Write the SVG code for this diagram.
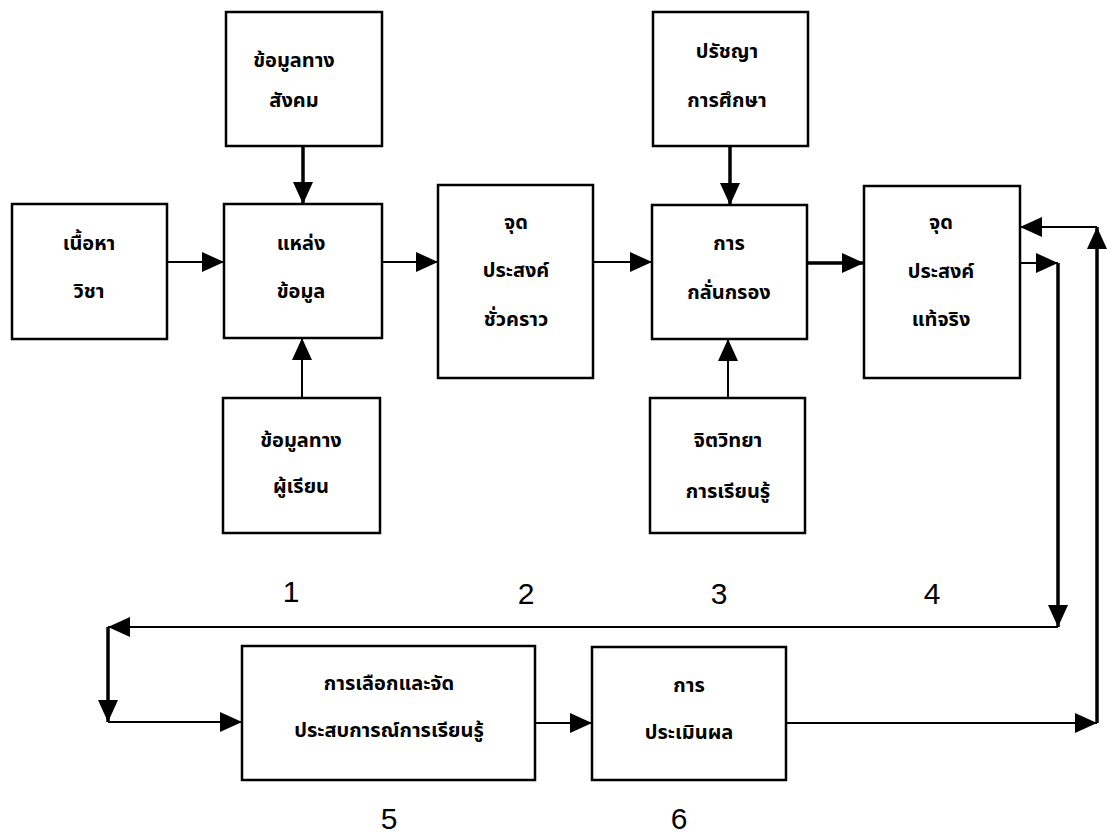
<svg xmlns="http://www.w3.org/2000/svg" width="1107" height="834" viewBox="0 0 1107 834">
<style>
.box{fill:#fff;stroke:#000;stroke-width:2.5}
.t{font-family:"Noto Sans Thai","Tahoma","DejaVu Sans","Noto Sans",sans-serif;font-weight:bold;font-size:20px;text-anchor:middle;fill:#000}
.n{font-family:"Liberation Sans",Arial,sans-serif;font-size:30px;text-anchor:middle;fill:#000}
.c{stroke:#000;stroke-width:2;fill:none;marker-end:url(#ah)}
.ck{stroke-width:3.5}
</style>
<defs>
<marker id="ah" markerUnits="userSpaceOnUse" markerWidth="22" markerHeight="20" refX="22" refY="10" orient="auto">
<path d="M0,0 L22,10 L0,20 z" fill="#000"/>
</marker>
</defs>
<rect width="1107" height="834" fill="#fff"/>
<g id="connectors">
<line class="c" x1="167" y1="262" x2="224" y2="262"/>
<line class="c ck" x1="303" y1="146" x2="303" y2="204"/>
<line class="c" x1="302" y1="398" x2="302" y2="338"/>
<line class="c" x1="382" y1="262" x2="438" y2="262"/>
<line class="c" x1="593" y1="262" x2="652" y2="262"/>
<line class="c ck" x1="730" y1="146" x2="730" y2="205"/>
<line class="c" x1="728" y1="398" x2="728" y2="339"/>
<line class="c ck" x1="807" y1="263" x2="864" y2="263"/>
<line class="c" x1="1020" y1="263" x2="1058" y2="263"/>
<line class="c ck" x1="1058" y1="263" x2="1058" y2="627"/>
<line class="c" x1="1058" y1="627" x2="108" y2="627"/>
<line class="c ck" x1="108" y1="627" x2="108" y2="722"/>
<line class="c" x1="108" y1="722" x2="242" y2="722"/>
<line class="c" x1="535" y1="723" x2="592" y2="723"/>
<line class="c" x1="786" y1="723" x2="1097" y2="723"/>
<line class="c ck" x1="1097" y1="723" x2="1097" y2="227"/>
<line class="c" x1="1097" y1="227" x2="1020" y2="227"/>
</g>
<g id="n-subject">
<rect class="box" x="12" y="204" width="155" height="135"/>
<text class="t" x="89" y="250">เนื้อหา</text>
<text class="t" x="89" y="298">วิชา</text>
</g>
<g id="n-social">
<rect class="box" x="226" y="12" width="156" height="134"/>
<text class="t" x="294" y="67">ข้อมูลทาง</text>
<text class="t" x="294" y="107">สังคม</text>
</g>
<g id="n-source">
<rect class="box" x="224" y="204" width="158" height="134"/>
<text class="t" x="301" y="250">แหล่ง</text>
<text class="t" x="301" y="298">ข้อมูล</text>
</g>
<g id="n-learner">
<rect class="box" x="223" y="398" width="157" height="135"/>
<text class="t" x="301" y="447">ข้อมูลทาง</text>
<text class="t" x="301" y="493">ผู้เรียน</text>
</g>
<g id="n-tentative">
<rect class="box" x="438" y="185" width="155" height="193"/>
<text class="t" x="516" y="229">จุด</text>
<text class="t" x="516" y="277">ประสงค์</text>
<text class="t" x="516" y="326">ชั่วคราว</text>
</g>
<g id="n-philosophy">
<rect class="box" x="653" y="12" width="155" height="134"/>
<text class="t" x="727" y="58">ปรัชญา</text>
<text class="t" x="727" y="107">การศึกษา</text>
</g>
<g id="n-screen">
<rect class="box" x="652" y="205" width="155" height="134"/>
<text class="t" x="729" y="250">การ</text>
<text class="t" x="729" y="299">กลั่นกรอง</text>
</g>
<g id="n-psych">
<rect class="box" x="650" y="398" width="155" height="135"/>
<text class="t" x="728" y="447">จิตวิทยา</text>
<text class="t" x="728" y="498">การเรียนรู้</text>
</g>
<g id="n-real">
<rect class="box" x="864" y="186" width="156" height="192"/>
<text class="t" x="941" y="229">จุด</text>
<text class="t" x="941" y="278">ประสงค์</text>
<text class="t" x="941" y="326">แท้จริง</text>
</g>
<g id="n-select">
<rect class="box" x="242" y="646" width="293" height="134"/>
<text class="t" x="389" y="690">การเลือกและจัด</text>
<text class="t" x="389" y="737">ประสบการณ์การเรียนรู้</text>
</g>
<g id="n-eval">
<rect class="box" x="592" y="647" width="194" height="133"/>
<text class="t" x="689" y="692">การ</text>
<text class="t" x="689" y="739">ประเมินผล</text>
</g>
<g id="labels">
<text class="n" x="291" y="602">1</text>
<text class="n" x="526" y="604">2</text>
<text class="n" x="719" y="604">3</text>
<text class="n" x="932" y="604">4</text>
<text class="n" x="389" y="829">5</text>
<text class="n" x="679" y="829">6</text>
</g>
</svg>
